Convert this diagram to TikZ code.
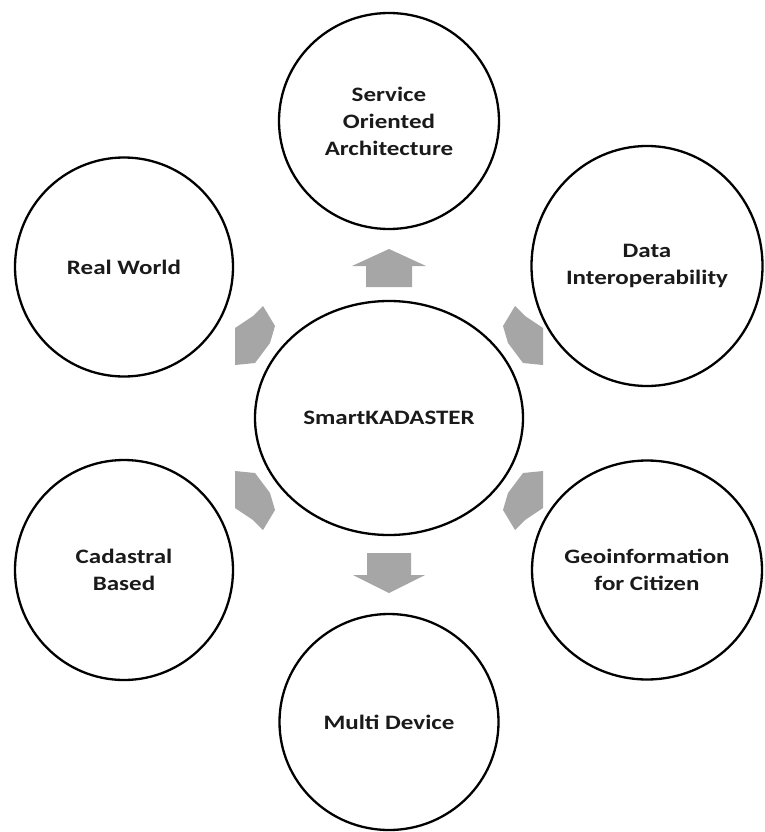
\documentclass[tikz,border=0pt]{standalone}
\usepackage{fontspec}
\newfontfamily\labfont[FakeStretch=1.22]{Carlito}
\usetikzlibrary{shapes.geometric}
\definecolor{arrowgray}{HTML}{A6A6A6}
\definecolor{txt}{HTML}{1A1A1A}
\tikzset{
  bubble/.style={draw=black, line width=2.3pt, ellipse, inner sep=0pt},
  lbl/.style={align=center, text=txt, font=\labfont\bfseries\fontsize{20.5}{27}\selectfont, inner sep=0pt},
  blockarrow/.style={fill=arrowgray, draw=none}
}
\begin{document}
\begin{tikzpicture}[x=1pt,y=-1pt]
\useasboundingbox (0,0) rectangle (764,832);
% bubbles
\node[bubble, minimum width=268, minimum height=234] (c) at (389,418) {};
\node[bubble, minimum width=220, minimum height=216] (soa) at (389,121) {};
\node[bubble, minimum width=218, minimum height=219] (rw) at (124,267) {};
\node[bubble, minimum width=231, minimum height=240] (di) at (647,266) {};
\node[bubble, minimum width=218, minimum height=220] (cb) at (124,570) {};
\node[bubble, minimum width=230, minimum height=219] (gc) at (647,570) {};
\node[bubble, minimum width=219, minimum height=216] (md) at (389,722) {};
% labels
\node[lbl] (tc) at (c) {SmartKADASTER};
\node[lbl] (tsoa) at (soa) {Service\\Oriented\\Architecture};
\node[lbl] (trw) at (rw) {Real World};
\node[lbl] (tdi) at (di) {Data\\Interoperability};
\node[lbl] (tcb) at (cb) {Cadastral\\Based};
\node[lbl] (tgc) at (gc) {Geoinformation\\for Citizen};
\node[lbl] (tmd) at (md) {Multi Device};
% block arrows
\fill[blockarrow] (389,249) -- (426,266) -- (412,266) -- (412,287) -- (366,287) -- (366,266) -- (352,266) -- cycle;
\fill[blockarrow] (389,593) -- (425,575) -- (411,575) -- (411,553) -- (367,553) -- (367,575) -- (353,575) -- cycle;
\foreach \sx/\sy in {1/1,-1/1,1/-1,-1/-1}{
  \fill[blockarrow, shift={(c.center)}, xscale=\sx, yscale=\sy]
    (-126,-112) -- (-114,-92) -- (-119,-75) -- (-134,-55) -- (-154,-53) -- (-154,-90) -- (-136,-102) -- cycle;
}
\end{tikzpicture}
\end{document}
